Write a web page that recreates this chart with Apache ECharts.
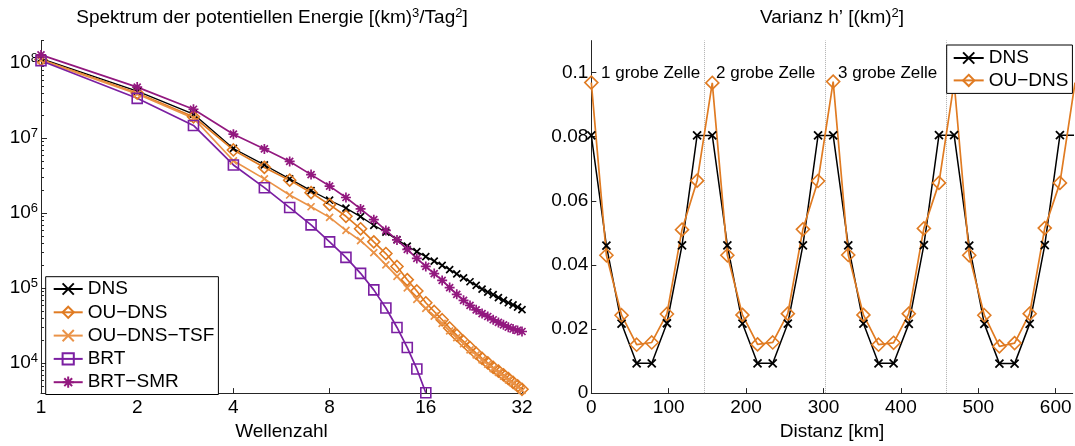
<!DOCTYPE html>
<html>
<head>
<meta charset="utf-8">
<script src="https://cdn.jsdelivr.net/npm/echarts/dist/echarts.min.js"></script>
<style>
  html, body { margin: 0; padding: 0; background: #fff; }
  #chart { width: 1075px; height: 446px; }
</style>
</head>
<body>
<div id="chart"></div>
<script>
// left panel: spectrum of potential energy
const wavenumbers = [1, 2, 3, 4, 5, 6, 7, 8, 9, 10, 11, 12, 13, 14, 15, 16,
  17, 18, 19, 20, 21, 22, 23, 24, 25, 26, 27, 28, 29, 30, 31, 32];
const dnsSpec = [1.15e8, 4.25e7, 2.1e7, 7.3e6, 4.4e6, 2.87e6, 2.0e6, 1.49e6, 1.17e6, 9.0e5, 6.9e5, 5.6e5,
  4.45e5, 3.64e5, 3.07e5, 2.64e5, 2.3e5, 2.02e5, 1.77e5, 1.55e5, 1.37e5, 1.22e5, 1.09e5, 9.7e4,
  8.9e4, 8.2e4, 7.5e4, 6.9e4, 6.4e4, 6.0e4, 5.6e4, 5.2e4];
const ouDnsSpec = [1.12e8, 4.0e7, 1.93e7, 6.97e6, 4.08e6, 2.76e6, 1.88e6, 1.30e6, 9.1e5, 6.2e5, 4.15e5, 2.9e5,
  1.95e5, 1.30e5, 9.2e4, 6.4e4, 4.9e4, 3.8e4, 2.95e4, 2.37e4, 1.95e4, 1.62e4, 1.36e4, 1.16e4,
  1.01e4, 8.8e3, 7.85e3, 7.0e3, 6.25e3, 5.55e3, 5.0e3, 4.5e3];
const ouDnsTsfSpec = [1.1e8, 3.9e7, 1.85e7, 5.0e6, 2.87e6, 1.75e6, 1.22e6, 8.8e5, 5.9e5, 4.3e5, 2.98e5, 2.05e5,
  1.44e5, 1.01e5, 7.1e4, 5.4e4, 4.25e4, 3.4e4, 2.7e4, 2.2e4, 1.82e4, 1.51e4, 1.29e4, 1.11e4,
  9.7e3, 8.5e3, 7.55e3, 6.75e3, 6.0e3, 5.45e3, 4.9e3, 4.35e3];
const brtSpec = [1.08e8, 3.4e7, 1.48e7, 4.4e6, 2.19e6, 1.19e6, 7.0e5, 4.15e5, 2.58e5, 1.58e5, 9.5e4, 5.45e4,
  3.0e4, 1.62e4, 8.4e3, 4.05e3];
const brtSmrSpec = [1.29e8, 4.8e7, 2.43e7, 1.13e7, 7.2e6, 4.9e6, 3.27e6, 2.3e6, 1.62e6, 1.14e6, 8.2e5, 5.9e5,
  4.4e5, 3.3e5, 2.5e5, 1.95e5, 1.57e5, 1.27e5, 1.02e5, 8.3e4, 6.9e4, 5.9e4, 5.15e4, 4.6e4,
  4.2e4, 3.8e4, 3.5e4, 3.25e4, 3.02e4, 2.86e4, 2.74e4, 2.65e4];
const waveTicks = [1, 2, 4, 8, 16, 32];
const decadeTicks = [1e4, 1e5, 1e6, 1e7, 1e8];
const minorTicks = [5e3, 6e3, 7e3, 8e3, 9e3,
  2e4, 3e4, 4e4, 5e4, 6e4, 7e4, 8e4, 9e4,
  2e5, 3e5, 4e5, 5e5, 6e5, 7e5, 8e5, 9e5,
  2e6, 3e6, 4e6, 5e6, 6e6, 7e6, 8e6, 9e6,
  2e7, 3e7, 4e7, 5e7, 6e7, 7e7, 8e7, 9e7, 2e8];

// right panel: variance of h'
const distances = [0, 19.5, 39.1, 58.6, 78.1, 97.7, 117.2, 136.7, 156.3, 175.8, 195.3, 214.8, 234.4,
  253.9, 273.4, 293.0, 312.5, 332.0, 351.6, 371.1, 390.6, 410.2, 429.7, 449.2, 468.8, 488.3,
  507.8, 527.3, 546.9, 566.4, 585.9, 605.5, 625.0];
const dnsVar = [0.0804, 0.0460, 0.0217, 0.0093, 0.0093, 0.0218, 0.0461, 0.0804,
  0.0804, 0.0461, 0.0217, 0.0093, 0.0093, 0.0217, 0.0461, 0.0804,
  0.0804, 0.0461, 0.0217, 0.0093, 0.0093, 0.0216, 0.0462, 0.0805,
  0.0805, 0.0460, 0.0216, 0.0092, 0.0092, 0.0216, 0.0462, 0.0805, 0.0805];
const ouDnsVar = [0.0969, 0.0430, 0.0243, 0.0151, 0.0158, 0.0247, 0.0510, 0.0663,
  0.0968, 0.0430, 0.0244, 0.0152, 0.0158, 0.0248, 0.0511, 0.0662,
  0.0972, 0.0431, 0.0244, 0.0151, 0.0157, 0.0248, 0.0514, 0.0656,
  0.0970, 0.0430, 0.0243, 0.0146, 0.0156, 0.0248, 0.0515, 0.0656, 0.0969];
const distTicks = [0, 100, 200, 300, 400, 500, 600];
const varTicks = [0, 0.02, 0.04, 0.06, 0.08, 0.1];
const cellBorders = [146.5, 302.7, 459.0];
const cellLabels = ["1 grobe Zelle", "2 grobe Zelle", "3 grobe Zelle"];

const FONT = "Liberation Sans, Arial, Helvetica, sans-serif";
const AXIS_COLOR = "#262626";
const ORANGE = "#e07b22";
const ORANGE_LIGHT = "#ea9348";
const VIOLET = "#7b1fa2";
const MAGENTA = "#92187f";

const SYM_X = "path://M0,0L10,10M10,0L0,10";
const SYM_STAR = "path://M5,0L5,10M0,5L10,5M1.5,1.5L8.5,8.5M8.5,1.5L1.5,8.5";
const SYM_DIAMOND = "path://M5,0L10,5L5,10L0,5Z";
const SYM_SQUARE = "path://M0,0L10,0L10,10L0,10Z";

const pairs = (xs, ys) => ys.map((v, i) => [xs[i], v]);

const sup = {
  b: { fontSize: 19, fontFamily: FONT, color: "#000" },
  s: { fontSize: 13, fontFamily: FONT, color: "#000", padding: [0, 0, 9, 0] }
};

function lineSeries(name, data, color, symbol, size, width, markW, xIdx, yIdx) {
  return {
    name: name,
    type: "line",
    xAxisIndex: xIdx,
    yAxisIndex: yIdx,
    data: data,
    symbol: symbol,
    symbolSize: size,
    showAllSymbol: true,
    clip: true,
    lineStyle: { color: color, width: width },
    itemStyle: { color: "rgba(0,0,0,0)", borderColor: color, borderWidth: markW },
    emphasis: { disabled: true },
    z: 3
  };
}

const grids = [
  { left: 41, top: 40.6, width: 481, height: 358.7 },
  { left: 591.3, top: 40.6, width: 481.4, height: 358.7 }
];

const axisLineStyle = { show: true, lineStyle: { color: AXIS_COLOR, width: 1 } };
const labelStyle = { color: "#000", fontSize: 19, fontFamily: FONT };

let option = {
  animation: false,
  backgroundColor: "#fff",
  grid: grids,
  xAxis: [
    {
      type: "log", logBase: 2, gridIndex: 0, min: 1, max: 32,
      axisLine: axisLineStyle,
      axisTick: { inside: true, length: 5, customValues: waveTicks, lineStyle: { color: AXIS_COLOR } },
      axisLabel: Object.assign({ margin: 5, customValues: waveTicks }, labelStyle),
      splitLine: { show: false },
      name: "Wellenzahl", nameLocation: "middle", nameGap: 24,
      nameTextStyle: labelStyle
    },
    {
      type: "value", gridIndex: 1, min: 0, max: 622,
      axisLine: axisLineStyle,
      axisTick: { inside: true, length: 5, customValues: distTicks, lineStyle: { color: AXIS_COLOR } },
      axisLabel: Object.assign({ margin: 5, customValues: distTicks }, labelStyle),
      splitLine: { show: false },
      name: "Distanz [km]", nameLocation: "middle", nameGap: 24,
      nameTextStyle: labelStyle
    }
  ],
  yAxis: [
    {
      type: "log", logBase: 10, gridIndex: 0, min: 4000, max: 2e8, position: "left",
      axisLine: axisLineStyle,
      axisTick: { inside: true, length: 6, customValues: decadeTicks, lineStyle: { color: AXIS_COLOR } },
      axisLabel: {
        margin: 3, customValues: decadeTicks,
        formatter: v => "{b|10}{s|" + Math.round(Math.log10(v)) + "}",
        rich: sup
      },
      splitLine: { show: false }
    },
    {
      type: "log", logBase: 10, gridIndex: 0, min: 4000, max: 2e8, position: "left",
      axisLine: { show: false },
      axisTick: { inside: true, length: 3, customValues: minorTicks, lineStyle: { color: AXIS_COLOR } },
      axisLabel: { show: false },
      splitLine: { show: false }
    },
    {
      type: "value", gridIndex: 1, min: 0, max: 0.11, position: "left",
      axisLine: axisLineStyle,
      axisTick: { inside: true, length: 5, customValues: varTicks, lineStyle: { color: AXIS_COLOR } },
      axisLabel: Object.assign({ margin: 3, customValues: varTicks }, labelStyle),
      splitLine: { show: false }
    }
  ],
  legend: [
    {
      data: ["DNS", "OU-DNS", "OU-DNS-TSF", "BRT", "BRT-SMR"],
      formatter: n => n.replace(/-/g, "\u2212"),
      orient: "vertical",
      left: 45.7, top: 276.7,
      padding: [2.3, 4, 2.3, 7],
      itemWidth: 29, itemHeight: 14, itemGap: 3.3,
      backgroundColor: "#fff",
      borderColor: "#000", borderWidth: 1, borderRadius: 0,
      textStyle: { color: "#000", fontSize: 19, fontFamily: FONT, lineHeight: 20 },
      selectedMode: false
    },
    {
      data: ["DNS ", "OU-DNS "],
      formatter: n => n.trim().replace(/-/g, "\u2212"),
      orient: "vertical",
      left: 946.7, top: 45,
      padding: [3, 4, 3, 6],
      itemWidth: 30, itemHeight: 14, itemGap: 2.4,
      backgroundColor: "#fff",
      borderColor: "#000", borderWidth: 1, borderRadius: 0,
      textStyle: { color: "#000", fontSize: 19, fontFamily: FONT, lineHeight: 20 },
      selectedMode: false,
      z: 10
    }
  ],
  series: [
    lineSeries("DNS", pairs(wavenumbers, dnsSpec), "#000", SYM_X, 7, 1.3, 1.7, 0, 0),
    lineSeries("OU-DNS", pairs(wavenumbers, ouDnsSpec), ORANGE, SYM_DIAMOND, 12, 1.7, 1.6, 0, 0),
    lineSeries("OU-DNS-TSF", pairs(wavenumbers, ouDnsTsfSpec), ORANGE_LIGHT, SYM_X, 7, 1.7, 1.7, 0, 0),
    lineSeries("BRT", pairs(wavenumbers, brtSpec), VIOLET, SYM_SQUARE, 10, 1.7, 1.6, 0, 0),
    lineSeries("BRT-SMR", pairs(wavenumbers, brtSmrSpec), MAGENTA, SYM_STAR, 10, 1.7, 1.7, 0, 0),
    Object.assign(lineSeries("DNS ", pairs(distances, dnsVar), "#000", SYM_X, 8, 1.5, 1.8, 1, 2), {
      markLine: {
        silent: true, symbol: "none", label: { show: false },
        lineStyle: { type: "dotted", color: "#b0b0b0", width: 1 },
        data: cellBorders.map(x => ({ xAxis: x })),
        z: 1
      }
    }),
    lineSeries("OU-DNS ", pairs(distances, ouDnsVar), ORANGE, SYM_DIAMOND, 13, 1.7, 1.6, 1, 2)
  ],
  graphic: [
    {
      type: "text", x: 272, y: 18,
      style: {
        text: "{b|Spektrum der potentiellen Energie [(km)}{s|3}{b|/Tag}{s|2}{b|]}",
        rich: sup, align: "center", verticalAlign: "middle"
      }
    },
    {
      type: "text", x: 832, y: 18,
      style: {
        text: "{b|Varianz h\u2019 [(km)}{s|2}{b|]}",
        rich: sup, align: "center", verticalAlign: "middle"
      }
    },
    { type: "text", x: 601, y: 73, style: { text: cellLabels[0], fontSize: 17, fontFamily: FONT, fill: "#000", verticalAlign: "middle" } },
    { type: "text", x: 716, y: 73, style: { text: cellLabels[1], fontSize: 17, fontFamily: FONT, fill: "#000", verticalAlign: "middle" } },
    { type: "text", x: 838, y: 73, style: { text: cellLabels[2], fontSize: 17, fontFamily: FONT, fill: "#000", verticalAlign: "middle" } }
  ]
};

const myChart = echarts.init(document.getElementById("chart"));
myChart.setOption(option);
</script>
</body>
</html>
